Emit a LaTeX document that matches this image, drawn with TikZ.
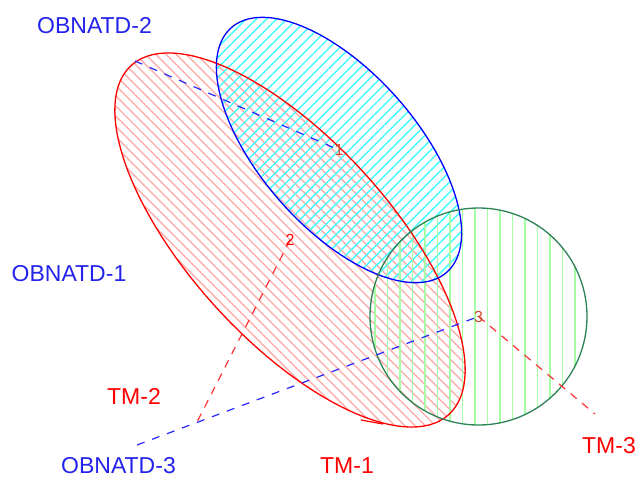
\documentclass[tikz,border=0pt]{standalone}
\usepackage{fontspec}
\setsansfont{Liberation Sans}
\usetikzlibrary{patterns.meta}
\definecolor{dkgreen}{RGB}{45,130,85}
\definecolor{lblue}{RGB}{35,35,235}
\definecolor{markbrown}{RGB}{205,75,45}
\tikzset{
	area/.style = {
		line width=1.3pt
	},
	area_red/.style = {
		area,
		draw=red,
		pattern={Lines[angle=-45, distance=7.2pt, line width=1.4pt]},
		pattern color=red!32
	},
	area_blue/.style = {
		area,
		draw=blue,
		pattern={Lines[angle=45, distance=7.2pt, line width=1.4pt]},
		pattern color=cyan!75
	},
	area_green/.style = {
		area,
		draw=dkgreen,
		pattern={Lines[angle=90, distance=12.5pt, line width=1.3pt]},
		pattern color=green!35
	},
	link_blue/.style = {
		draw=blue!85,
		line width=1.2pt,
		dash pattern=on 8pt off 8pt
	},
	link_red/.style = {
		draw=red!80,
		line width=1.2pt,
		dash pattern=on 8pt off 7pt
	},
	label_blue/.style = {
		font=\sffamily\fontsize{23}{27}\selectfont,
		text=lblue,
		inner sep=0pt
	},
	label_red/.style = {
		label_blue,
		text=red
	},
	center_mark/.style = {
		font=\sffamily\fontsize{16}{18}\selectfont,
		text=markbrown,
		inner sep=0pt
	},
}

\begin{document}
\begin{tikzpicture}[x=1pt,y=-1pt]
\useasboundingbox (0,0) rectangle (637,479);
% centres of the three areas
\coordinate (c1) at (339,150);
\coordinate (c2) at (290,240);
\coordinate (c3) at (478.5,316.5);
% free ends of the dashed links
\coordinate (e_obn2) at (135,61);
\coordinate (e_obn3) at (137,445);
\coordinate (e_tm2) at (197,422);
\coordinate (e_tm3) at (595,414);
\coordinate (t1a) at (361,420);
\coordinate (t1b) at (383,424);

% hatched areas (tilted ellipses as plots, so the hatching keeps its angle)
\path [area_red, draw=none, shift={(c2)}] plot [domain=0:360, samples=120]
	({236*cos(\x)*cos(47.7)-100*sin(\x)*sin(47.7)}, {236*cos(\x)*sin(47.7)+100*sin(\x)*cos(47.7)}) -- cycle;
\path [area_blue, draw=none, shift={(c1)}] plot [domain=0:360, samples=120]
	({163*cos(\x)*cos(48.6)-78*sin(\x)*sin(48.6)}, {163*cos(\x)*sin(48.6)+78*sin(\x)*cos(48.6)}) -- cycle;
\path [area_green, draw=none] (c3) circle [radius=108.5pt];
\draw [area, red, shift={(c2)}] plot [domain=0:360, samples=120]
	({236*cos(\x)*cos(47.7)-100*sin(\x)*sin(47.7)}, {236*cos(\x)*sin(47.7)+100*sin(\x)*cos(47.7)}) -- cycle;
\draw [area, blue, shift={(c1)}] plot [domain=0:360, samples=120]
	({163*cos(\x)*cos(48.6)-78*sin(\x)*sin(48.6)}, {163*cos(\x)*sin(48.6)+78*sin(\x)*cos(48.6)}) -- cycle;
\draw [area, dkgreen] (c3) circle [radius=108.5pt];

% dashed links
\draw [link_blue] (e_obn2) -- (c1);
\draw [link_blue] (e_obn3) -- (c3);
\draw [link_red] (c2) -- (e_tm2);
\draw [link_red] (c3) -- (e_tm3);
\draw [red, line width=1.2pt] (t1a) -- (t1b);

\node [center_mark] (m1) at (c1) {1};
\node [center_mark, text=red] (m2) at (c2) {2};
\node [center_mark] (m3) at (c3) {3};

% labels
\node [label_blue] (obn2) at (94.5,26) {OBNATD-2};
\node [label_blue] (obn1) at (69,273.5) {OBNATD-1};
\node [label_blue] (obn3) at (118.5,466) {OBNATD-3};
\node [label_red] (tm2) at (134,396.5) {TM-2};
\node [label_red] (tm1) at (347,466) {TM-1};
\node [label_red] (tm3) at (609,446) {TM-3};
\end{tikzpicture}
\end{document}
